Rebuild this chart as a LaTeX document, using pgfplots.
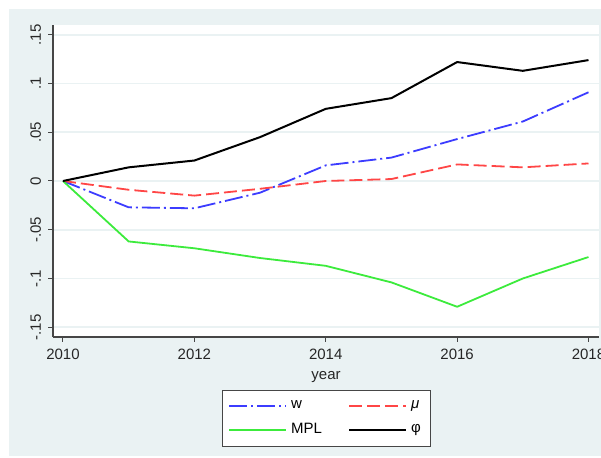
\documentclass[border=0pt]{standalone}
\usepackage{fontspec}
\setmainfont{Liberation Sans}
\usepackage{pgfplots}
\pgfplotsset{compat=1.18}

\definecolor{bgc}{RGB}{234,242,243}
\definecolor{gridc}{RGB}{234,242,243}
\definecolor{axc}{RGB}{70,70,70}
\definecolor{cw}{RGB}{60,60,255}
\definecolor{cmu}{RGB}{255,70,70}
\definecolor{cmpl}{RGB}{60,235,60}

\pgfplotstableread{
year  w       mu      mpl     phi
2010  0.000   0.000   0.000   0.000
2011 -0.027  -0.009  -0.062   0.014
2012 -0.028  -0.015  -0.069   0.021
2013 -0.012  -0.008  -0.079   0.045
2014  0.016   0.000  -0.087   0.074
2015  0.024   0.002  -0.104   0.085
2016  0.043   0.017  -0.129   0.122
2017  0.061   0.014  -0.100   0.113
2018  0.091   0.018  -0.078   0.124
}\datatable

\begin{document}
\begin{tikzpicture}
  % page and graph region; the right edge trims the last tick label
  \useasboundingbox (0pt,0pt) rectangle (300.5pt,-229pt);
  \fill[white] (0pt,0pt) rectangle (300.5pt,-229pt);
  \fill[bgc] (4.5pt,-4.5pt) rectangle (300.5pt,-228pt);
  \begin{axis}[
    at={(26.5pt,-168.5pt)}, anchor=south west,
    scale only axis, width=273pt, height=156pt,
    axis background/.style={fill=white},
    axis x line*=bottom, axis y line*=left,
    axis line style={axc, line width=0.6pt},
    xmin=2009.848, xmax=2018.16,
    ymin=-0.16, ymax=0.16,
    xtick={2010,2012,...,2018},
    ytick={-0.15,-0.1,-0.05,0,0.05,0.1,0.15},
    yticklabels={-.15,-.1,-.05,0,.05,.1,.15},
    tick align=outside, xtick pos=bottom, ytick pos=left,
    major tick length=2.5pt,
    tick style={axc, line width=0.5pt},
    ymajorgrids, major grid style={gridc, line width=0.8pt},
    /pgf/number format/assume math mode=true,
    /pgf/number format/1000 sep={},
    ticklabel style={font=\fontsize{7.5}{9}\selectfont, text=black!85},
    yticklabel style={rotate=90, anchor=south},
    xlabel={year},
    xlabel style={font=\fontsize{7.5}{9}\selectfont, text=black!85, yshift=1pt},
    legend columns=2,
    legend cell align=left,
    legend style={
      at={(0.3095,-0.17)}, anchor=north west,
      draw=axc, line width=0.4pt, fill=white,
      font=\fontsize{7.5}{9}\selectfont,
      inner xsep=3pt, inner ysep=3pt,
      row sep=2pt,
      /tikz/every even column/.append style={column sep=11pt},
    },
    legend image code/.code={\draw[#1] (0pt,0pt) -- (28.5pt,0pt);},
  ]
    \addplot[color=cw, line width=0.9pt, dash pattern=on 9pt off 2pt on 1pt off 2pt]
      table[x=year, y=w] {\datatable};
    \addlegendentry{w}
    \addplot[color=cmu, line width=0.9pt, dash pattern=on 6.5pt off 2.5pt]
      table[x=year, y=mu] {\datatable};
    \addlegendentry{\textit{μ}}
    \addplot[color=cmpl, line width=0.9pt, solid]
      table[x=year, y=mpl] {\datatable};
    \addlegendentry{MPL}
    \addplot[color=black, line width=1pt, solid]
      table[x=year, y=phi] {\datatable};
    \addlegendentry{φ}
  \end{axis}
\end{tikzpicture}
\end{document}
